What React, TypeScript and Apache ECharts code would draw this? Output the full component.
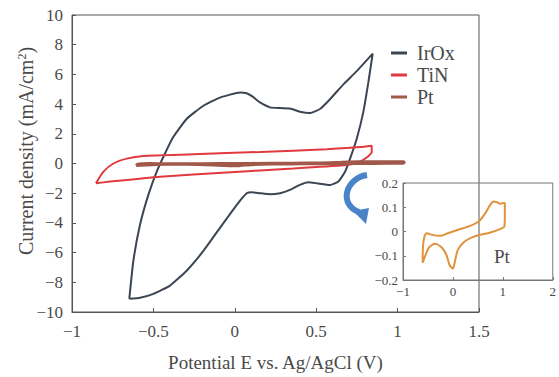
import React, { useEffect, useRef } from "react";
import * as echarts from "echarts";

// Cyclic voltammograms: [potential E (V), current density (mA/cm²)]
const irOx: [number, number][] = [
  [-0.648, -9.11], [-0.623, -6.55], [-0.582, -4.11], [-0.531, -2.11], [-0.48, -0.56],
  [-0.429, 0.67], [-0.378, 1.78], [-0.296, 3.0], [-0.193, 3.89], [-0.091, 4.44],
  [0.032, 4.78], [0.073, 4.73], [0.11, 4.5], [0.155, 4.11], [0.216, 3.78],
  [0.278, 3.73], [0.339, 3.71], [0.4, 3.49], [0.462, 3.4], [0.523, 3.67],
  [0.585, 4.33], [0.667, 5.33], [0.749, 6.22], [0.847, 7.4], [0.82, 5.44],
  [0.789, 3.44], [0.749, 1.67], [0.708, 0.33], [0.677, -0.56], [0.636, -1.22],
  [0.585, -1.44], [0.503, -1.33], [0.452, -1.27], [0.4, -1.44], [0.339, -1.78],
  [0.278, -2.0], [0.216, -2.07], [0.155, -2.0], [0.104, -1.93], [0.073, -2.0],
  [0.012, -2.78], [-0.091, -4.33], [-0.193, -5.89], [-0.296, -7.22], [-0.398, -8.22],
  [-0.5, -8.78], [-0.582, -9.04], [-0.648, -9.11],
];

const tiN: [number, number][] = [
  [-0.853, -1.33], [-0.808, -0.56], [-0.746, 0], [-0.664, 0.33], [-0.562, 0.51],
  [-0.255, 0.62], [0.155, 0.78], [0.564, 0.96], [0.769, 1.11], [0.841, 1.2],
  [0.841, 0.75], [0.81, 0.4], [0.769, 0.12], [0.687, -0.1], [0.359, -0.33],
  [-0.05, -0.6], [-0.459, -0.89], [-0.767, -1.22], [-0.853, -1.33],
];

const pt: [number, number][] = [
  [-0.606, -0.129], [-0.6, -0.0625], [-0.567, -0.018], [-0.52, -0.007], [-0.42, -0.014],
  [-0.26, -0.018], [-0.1, -0.007], [0.1, 0.007], [0.358, 0.024], [0.52, 0.042],
  [0.65, 0.076], [0.75, 0.111], [0.814, 0.124], [0.88, 0.121], [0.945, 0.114],
  [1.01, 0.118], [1.04, 0.118], [1.04, 0.0625], [1.03, 0.021], [0.945, 0.01],
  [0.75, -0.004], [0.423, -0.021], [0.228, -0.042], [0.098, -0.076], [0.046, -0.118],
  [0, -0.153], [-0.065, -0.139], [-0.13, -0.097], [-0.228, -0.065], [-0.358, -0.051],
  [-0.475, -0.065], [-0.55, -0.097], [-0.606, -0.129],
];

const legendNames = ["IrOx", "TiN", "Pt"];

const FONT = "'Liberation Serif', 'Times New Roman', serif";
const TEXT = "#4a4a4a";
const AXIS = "#555";

const minus = (v: number, digits?: number) => {
  const s = digits === undefined ? String(v) : Math.abs(v) < 1e-9 ? "0" : v.toFixed(digits);
  return s.replace("-", "\u2212");
};

export default function App() {
  const ref = useRef<HTMLDivElement>(null);

  useEffect(() => {
    if (!ref.current) return;
    const chart = echarts.init(ref.current, undefined, { renderer: "svg" });
    const axisCommon = {
      axisLine: { show: true, onZero: false, lineStyle: { color: AXIS, width: 1 } },
      splitLine: { show: false },
    };
    chart.setOption({
      animation: false,
      backgroundColor: "#fff",
      grid: [
        { left: 72, top: 15, width: 407, height: 300, show: true, borderColor: AXIS, borderWidth: 1, backgroundColor: "transparent" },
        { left: 403, top: 183, width: 152, height: 97, show: true, borderColor: "#777", borderWidth: 1, backgroundColor: "transparent" },
      ],
      xAxis: [
        {
          ...axisCommon,
          gridIndex: 0, type: "value", min: -1, max: 1.5, interval: 0.5,
          axisTick: { show: true, inside: true, length: 4, lineStyle: { color: AXIS } },
          axisLabel: { fontSize: 17, fontFamily: FONT, color: TEXT, margin: 11, formatter: (v: number) => minus(v) },
          name: "Potential E vs. Ag/AgCl (V)", nameLocation: "middle", nameGap: 41,
          nameTextStyle: { fontSize: 19, fontFamily: FONT, color: TEXT },
        },
        {
          ...axisCommon,
          gridIndex: 1, type: "value", min: -1, max: 2, interval: 1,
          axisLine: { show: true, onZero: false, lineStyle: { color: "#777", width: 1 } },
          axisTick: { show: true, inside: true, length: 3, lineStyle: { color: "#777" } },
          axisLabel: { fontSize: 13, fontFamily: FONT, color: TEXT, margin: 5, formatter: (v: number) => minus(v) },
        },
      ],
      yAxis: [
        {
          ...axisCommon,
          gridIndex: 0, type: "value", min: -10, max: 10, interval: 2,
          axisTick: { show: true, inside: true, length: 4, lineStyle: { color: AXIS } },
          axisLabel: { fontSize: 17, fontFamily: FONT, color: TEXT, margin: 9, formatter: (v: number) => minus(v) },
        },
        {
          ...axisCommon,
          gridIndex: 1, type: "value", min: -0.2, max: 0.2, interval: 0.1,
          axisLine: { show: true, onZero: false, lineStyle: { color: "#777", width: 1 } },
          axisTick: { show: true, inside: true, length: 3, lineStyle: { color: "#777" } },
          axisLabel: { fontSize: 13, fontFamily: FONT, color: TEXT, margin: 5, formatter: (v: number) => minus(v, Math.abs(v) < 1e-9 ? 0 : 1) },
        },
      ],
      legend: {
        data: legendNames, orient: "vertical", left: 391, top: 43, padding: 0,
        itemWidth: 16, itemHeight: 3, itemGap: 2, icon: "rect",
        textStyle: { fontSize: 20, fontFamily: FONT, color: TEXT, padding: [0, 0, 0, 5] },
      },
      series: [
        { name: "IrOx", type: "line", xAxisIndex: 0, yAxisIndex: 0, data: irOx, smooth: 0.15, symbol: "none", color: "#3b4652", lineStyle: { width: 2 } },
        { name: "TiN", type: "line", xAxisIndex: 0, yAxisIndex: 0, data: tiN, smooth: 0.2, symbol: "none", color: "#e03a3e", lineStyle: { width: 2 } },
        { name: "Pt", type: "line", xAxisIndex: 0, yAxisIndex: 0, data: pt, smooth: 0.2, symbol: "none", color: "#a0584a", lineStyle: { width: 3 } },
        { name: "Pt (inset)", type: "line", xAxisIndex: 1, yAxisIndex: 1, data: pt, smooth: 0.25, symbol: "none", color: "#e0923c", lineStyle: { width: 2 } },
      ],
      graphic: [
        {
          type: "text", x: 26, y: 151, rotation: Math.PI / 2,
          style: {
            text: "Current density (mA/cm{s|2})", fontSize: 20, fontFamily: FONT, fill: TEXT,
            align: "center", verticalAlign: "middle",
            rich: { s: { fontSize: 12, fontFamily: FONT, fill: TEXT, verticalAlign: "top" } },
          },
        },
        { type: "text", x: 494, y: 256, style: { text: "Pt", fontSize: 19, fontFamily: FONT, fill: TEXT, align: "left", verticalAlign: "middle" } },
        {
          type: "bezierCurve",
          shape: { x1: 367, y1: 175, cpx1: 346, cpy1: 178, cpx2: 338, cpy2: 204, x2: 359, y2: 212 },
          style: { stroke: "#4a84c8", lineWidth: 6, fill: null },
        },
        {
          type: "polygon",
          shape: { points: [[353, 211], [369, 208], [366, 224]] },
          style: { fill: "#4a84c8" },
        },
      ],
    });
    return () => chart.dispose();
  }, []);

  return <div ref={ref} style={{ position: "fixed", left: 0, top: 0, width: 559, height: 377 }} />;
}
